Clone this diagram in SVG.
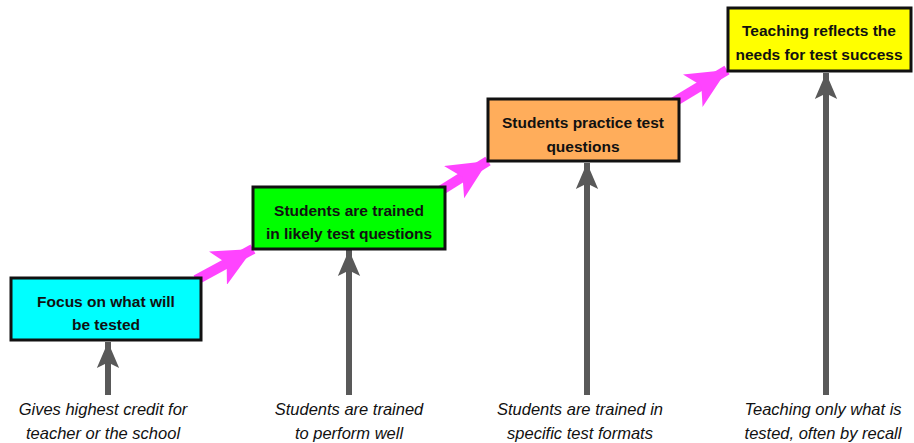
<svg xmlns="http://www.w3.org/2000/svg" width="914" height="443" viewBox="0 0 914 443">
<defs>
<marker id="gh" markerUnits="userSpaceOnUse" markerWidth="26" markerHeight="30" refX="28" refY="12" orient="auto" viewBox="0 0 28 24">
<path d="M0,0 L28,12 L0,24 L6,12 Z" fill="#595959"/>
</marker>
<marker id="ph" markerUnits="userSpaceOnUse" markerWidth="40" markerHeight="38" refX="40" refY="19" orient="auto" viewBox="0 0 40 38">
<path d="M0,0 L40,19 L0,38 L10,19 Z" fill="#FF44FF"/>
</marker>
<style>
.box{stroke:#111;stroke-width:3}
.t{font-family:"Liberation Sans",Arial,sans-serif;font-weight:bold;font-size:15.5px;fill:#111;text-anchor:middle}
.c{font-family:"Liberation Sans",Arial,sans-serif;font-style:italic;font-size:16.5px;fill:#111;text-anchor:middle}
.g{stroke:#595959;stroke-width:6;fill:none}
.p{stroke:#FF44FF;stroke-width:10;fill:none}
</style>
</defs>
<g id="connectors">
<line class="p" x1="196" y1="280" x2="253" y2="249" marker-end="url(#ph)"/>
<line class="p" x1="440" y1="191" x2="488" y2="161" marker-end="url(#ph)"/>
<line class="p" x1="674" y1="102" x2="727" y2="70" marker-end="url(#ph)"/>
<line class="g" x1="108" y1="395" x2="108" y2="342" marker-end="url(#gh)"/>
<line class="g" x1="349" y1="395" x2="349" y2="250" marker-end="url(#gh)"/>
<line class="g" x1="587" y1="395" x2="587" y2="163" marker-end="url(#gh)"/>
<line class="g" x1="826" y1="395" x2="826" y2="73" marker-end="url(#gh)"/>
</g>
<g id="node1">
<rect class="box" x="11" y="278" width="190" height="62" fill="#00FFFF"/>
<text class="t" x="106" y="307">Focus on what will</text>
<text class="t" x="106" y="330">be tested</text>
</g>
<g id="node2">
<rect class="box" x="253" y="187" width="192" height="62" fill="#00FF00"/>
<text class="t" x="349" y="216">Students are trained</text>
<text class="t" x="349" y="239">in likely test questions</text>
</g>
<g id="node3">
<rect class="box" x="488" y="99" width="191" height="62" fill="#FFAD5B"/>
<text class="t" x="583" y="128">Students practice test</text>
<text class="t" x="583" y="152">questions</text>
</g>
<g id="node4">
<rect class="box" x="728" y="8" width="183" height="63" fill="#FFFF00"/>
<text class="t" x="819" y="36">Teaching reflects the</text>
<text class="t" x="819" y="60">needs for test success</text>
</g>
<g id="caption1"><text class="c" x="103" y="415">Gives highest credit for</text><text class="c" x="103" y="439">teacher or the school</text></g>
<g id="caption2"><text class="c" x="349" y="415">Students are trained</text><text class="c" x="349" y="439">to perform well</text></g>
<g id="caption3"><text class="c" x="580" y="415">Students are trained in</text><text class="c" x="580" y="439">specific test formats</text></g>
<g id="caption4"><text class="c" x="823" y="415">Teaching only what is</text><text class="c" x="823" y="439">tested, often by recall</text></g>
</svg>
